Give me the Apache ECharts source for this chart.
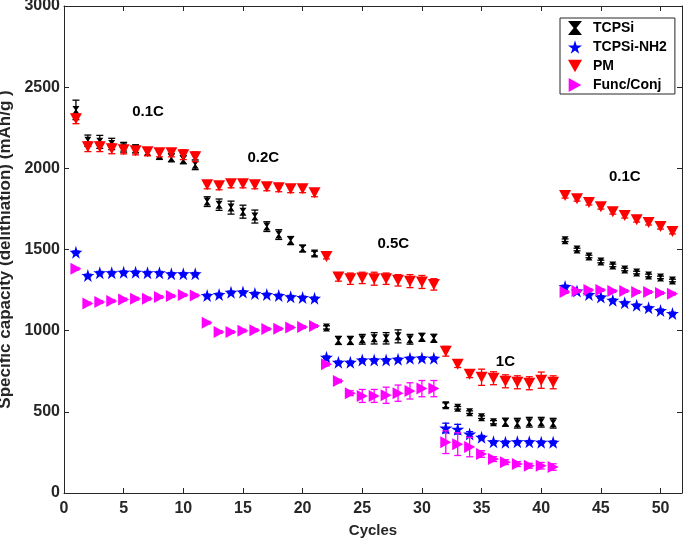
<!DOCTYPE html>
<html><head><meta charset="utf-8">
<script src="https://cdn.jsdelivr.net/npm/echarts@6/dist/echarts.min.js"></script>
<style>html,body{margin:0;padding:0;background:#fff}#c{width:685px;height:543px}</style>
</head><body><div id="c"></div>
<script>
const cycles = [1,2,3,4,5,6,7,8,9,10,11,12,13,14,15,16,17,18,19,20,21,22,23,24,25,26,27,28,29,30,31,32,33,34,35,36,37,38,39,40,41,42,43,44,45,46,47,48,49,50,51];
const tcpsi = [2360, 2170,2163,2150,2130,2120,2100,2080,2065,2053,2022, 1795,1776,1758,1733,1703,1641,1592,1555,1506,1475, 1020,940,940,947,953,953,965,947,959,953, 541,525,498,467,436,436,430,436,436,430, 1557,1500,1457,1426,1402,1377,1358,1340,1328,1309];
const tcpsiErr = [60, 35,40,35,30,25,20,25,25,25,30, 30,35,40,40,40,30,30,25,20,15, 10,25,25,30,35,35,40,30,25,25, 15,8,8,8,10,25,30,30,30,30, 8,8,8,8,8,8,8,8,8,8];
const nh2 = [1483, 1340,1357,1357,1360,1360,1357,1357,1350,1350,1350, 1217,1223,1236,1238,1229,1223,1217,1209,1205,1199, 836,805,805,820,820,820,824,830,832,830, 400,393,363,344,315,313,315,315,313,313, 1272,1244,1223,1207,1188,1172,1156,1141,1125,1106];
const nh2Err = [8, 8,8,8,8,8,8,8,8,8,8, 8,8,8,8,8,8,8,8,8,8, 8,8,8,8,8,8,8,8,8,8, 30,30,15,10,8,8,8,8,8,8, 8,8,8,8,8,8,8,8,8,8];
const pm = [2305, 2133,2133,2120,2114,2108,2102,2096,2096,2084,2071, 1899,1893,1905,1905,1899,1887,1881,1875,1875,1850, 1457,1330,1320,1325,1320,1320,1310,1305,1300,1285, 873,793,731,713,707,688,682,676,695,682, 1832,1813,1789,1764,1733,1709,1684,1666,1641,1611];
const pmErr = [30, 30,30,30,25,25,25,25,25,30,30, 25,25,25,25,25,25,25,25,25,25, 15,25,35,35,40,35,35,40,40,35, 30,20,20,50,40,40,40,40,50,40, 15,15,15,15,15,15,15,15,15,15];
const func = [1381, 1168,1176,1182,1192,1197,1197,1207,1213,1219,1217, 1049,992,992,1000,1003,1010,1012,1020,1022,1028, 793,690,615,598,598,602,615,629,643,643, 313,301,283,240,209,190,178,168,168,160, 1238,1244,1250,1250,1244,1244,1238,1238,1232,1228];
const funcErr = [8, 8,8,8,8,8,8,8,8,8,8, 8,8,8,8,8,8,8,8,8,8, 10,10,15,40,40,50,50,50,50,50, 70,70,60,20,15,15,15,15,20,20, 8,8,8,8,8,8,8,8,8,8];
const seriesNames = ['TCPSi','TCPSi-NH2','PM','Func/Conj'];
const rateLabels = ['0.1C','0.2C','0.5C','1C','0.1C'];

const colors = ['#000000','#0000ff','#ff0000','#ff00ff'];
const symbols = [
  'path://M0,0 L10,0 L6,5 L10,10 L0,10 L4,5 Z',
  'path://M50,0 L61,35 L98,35 L68,57 L79,91 L50,70 L21,91 L32,57 L2,35 L39,35 Z',
  'path://M0,0 L10,0 L5,9 Z',
  'path://M0,0 L9,5 L0,10 Z'
];
const sizes = [[7,8],13,[12,11],[11,12]];
const vals = [tcpsi, nh2, pm, func];
const errs = [tcpsiErr, nh2Err, pmErr, funcErr];

function errBar(color){
  return function(params, api){
    const x = api.value(0), y = api.value(1), e = api.value(2);
    const t = api.coord([x, y + e]), b = api.coord([x, y - e]);
    const w = 3.5;
    const st = {stroke: color, lineWidth: 1.3};
    return {type:'group', children:[
      {type:'line', shape:{x1:t[0],y1:t[1],x2:b[0],y2:b[1]}, style:st},
      {type:'line', shape:{x1:t[0]-w,y1:t[1],x2:t[0]+w,y2:t[1]}, style:st},
      {type:'line', shape:{x1:b[0]-w,y1:b[1],x2:b[0]+w,y2:b[1]}, style:st}
    ]};
  };
}

const series = [];
seriesNames.forEach((n, k) => {
  series.push({
    type:'custom', name:n+' err', renderItem: errBar(colors[k]), silent:true,
    data: cycles.map((c,i)=>[c, vals[k][i], errs[k][i]]), encode:{x:0,y:1}, z: 2 + k*2
  });
  series.push({
    type:'scatter', name:n, symbol: symbols[k], symbolSize: sizes[k],
    itemStyle:{color: colors[k], opacity:1}, z: 3 + k*2,
    data: cycles.map((c,i)=>[c, vals[k][i]])
  });
});

const axisCol = '#262626';
const FF = '"Liberation Sans", Arial, sans-serif';
const lblFont = {fontFamily:FF, fontWeight:'bold', fontSize:16, color:'#262626', formatter: v => String(v)};
const chart = echarts.init(document.getElementById('c'), null, {renderer:'canvas'});
chart.setOption({
  animation:false,
  backgroundColor:'#fff',
  grid:{left:64, right:3, top:6, bottom:50, containLabel:false, outerBoundsMode:'none'},
  xAxis:[
    {type:'value', min:0, max:51.8, interval:5, position:'bottom',
     name:'Cycles', nameLocation:'middle', nameGap:30,
     nameTextStyle:{fontFamily:FF, fontWeight:'bold', fontSize:15, color:'#262626'},
     axisLine:{show:true, onZero:false, lineStyle:{color:axisCol, width:1}},
     axisTick:{inside:true, length:5, lineStyle:{color:axisCol}},
     axisLabel:Object.assign({margin:8, showMaxLabel:false}, lblFont),
     splitLine:{show:false}},
    {type:'value', min:0, max:51.8, interval:5, position:'top',
     axisLine:{show:true, onZero:false, lineStyle:{color:axisCol, width:1}},
     axisTick:{inside:true, length:5, lineStyle:{color:axisCol}},
     axisLabel:{show:false}, splitLine:{show:false}}
  ],
  yAxis:[
    {type:'value', min:0, max:3000, interval:500, position:'left',
     name:'Specific capacity (delithiation) (mAh/g )', nameLocation:'middle', nameGap:35,
     nameTextStyle:{fontFamily:FF, fontWeight:'bold', fontSize:17, color:'#262626'},
     axisLine:{show:true, onZero:false, lineStyle:{color:axisCol, width:1}},
     axisTick:{inside:true, length:5, lineStyle:{color:axisCol}},
     axisLabel:Object.assign({margin:4}, lblFont),
     splitLine:{show:false}},
    {type:'value', min:0, max:3000, interval:500, position:'right',
     axisLine:{show:true, onZero:false, lineStyle:{color:axisCol, width:1}},
     axisTick:{inside:true, length:5, lineStyle:{color:axisCol}},
     axisLabel:{show:false}, splitLine:{show:false}}
  ],
  legend:{
    data: seriesNames.map((n,k)=>({name:n, icon:symbols[k], itemStyle:{color:colors[k]}})),
    orient:'vertical', left:560, top:18, itemWidth:14, itemHeight:14, itemGap:5,
    padding:[3,8,2,8], backgroundColor:'#fff', borderColor:'#262626', borderWidth:1,
    textStyle:{fontFamily:FF, fontWeight:'bold', fontSize:14, color:'#000', padding:[0,0,0,6]},
    selectedMode:false
  },
  series: series
});

const labelPos = [[7.04,2348],[16.7,2065],[27.6,1537],[37,805],[47.0,1948]];
chart.setOption({graphic: rateLabels.map((t,i)=>{
  const p = chart.convertToPixel({xAxisIndex:0, yAxisIndex:0}, labelPos[i]);
  return {type:'text', x:p[0], y:p[1], style:{text:t, fill:'#000', font:'bold 15px "Liberation Sans", Arial, sans-serif', textAlign:'center', textVerticalAlign:'middle'}};
})});
</script></body></html>
